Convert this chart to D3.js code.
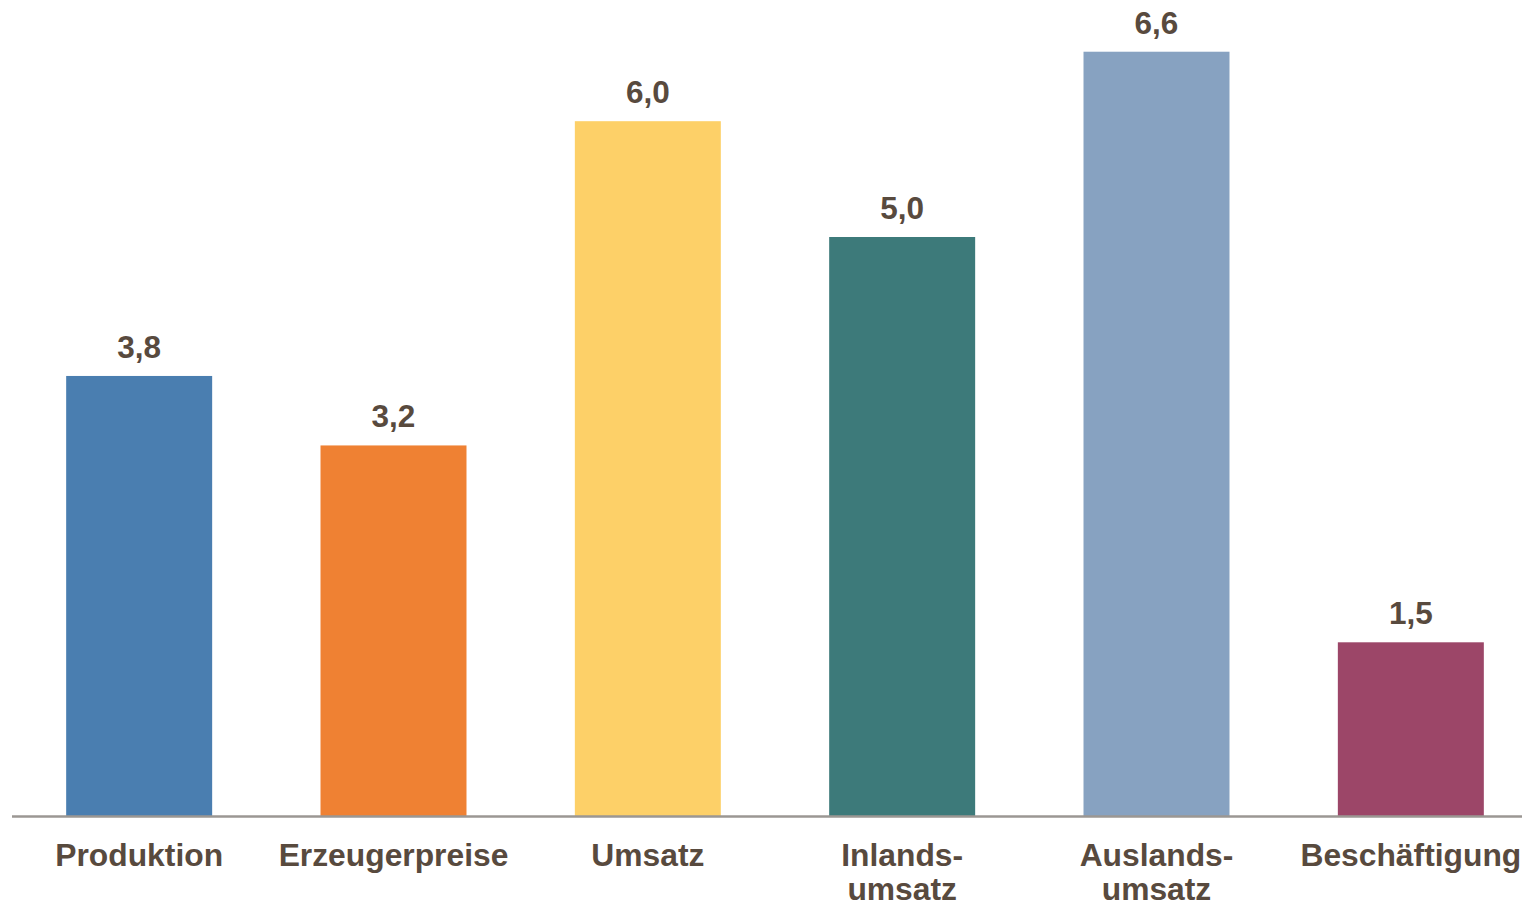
<!DOCTYPE html>
<html>
<head>
<meta charset="utf-8">
<script src="https://cdnjs.cloudflare.com/ajax/libs/d3/7.8.5/d3.min.js"></script>
<style>
  html, body { margin: 0; padding: 0; background: #ffffff; }
  svg { display: block; }
  text { font-family: "Liberation Sans", Arial, sans-serif; font-weight: bold; fill: #584a3e; }
</style>
</head>
<body>
<svg id="chart" width="1522" height="904"></svg>
<script>
// Change against previous year, in percent
const categories = ["Produktion", "Erzeugerpreise", "Umsatz", "Inlands-\numsatz", "Auslands-\numsatz", "Beschäftigung"];
const values = [3.8, 3.2, 6.0, 5.0, 6.6, 1.5];
const valueLabels = ["3,8", "3,2", "6,0", "5,0", "6,6", "1,5"];
const colors = ["#4a7eb0", "#ef8133", "#fdd068", "#3d7a7a", "#87a2c1", "#9c4668"];

const svg = d3.select("#chart");
const baseline = 816;

const x = d3.scaleBand()
  .domain(categories)
  .range([12, 1538])
  .paddingInner(0.426)
  .paddingOuter(0.213);

const y = d3.scaleLinear()
  .domain([0, 7])
  .range([baseline, 5.4]);

const data = categories.map((c, i) => ({ cat: c, value: values[i], label: valueLabels[i], color: colors[i] }));

// bars
svg.append("g").selectAll("rect")
  .data(data)
  .join("rect")
  .attr("x", d => x(d.cat))
  .attr("y", d => y(d.value))
  .attr("width", x.bandwidth())
  .attr("height", d => baseline - y(d.value))
  .attr("fill", d => d.color);

// value labels
svg.append("g").selectAll("text")
  .data(data)
  .join("text")
  .attr("x", d => x(d.cat) + x.bandwidth() / 2)
  .attr("y", d => y(d.value) - 18)
  .attr("text-anchor", "middle")
  .style("font-size", "31.5px")
  .text(d => d.label);

// category axis
const axis = svg.append("g")
  .attr("transform", `translate(0,${baseline})`)
  .call(d3.axisBottom(x).tickSize(0).tickFormat(""));
axis.select(".domain").remove();

axis.append("line")
  .attr("x1", 12).attr("x2", 1522)
  .attr("y1", 0.5).attr("y2", 0.5)
  .attr("stroke", "#9b9793")
  .attr("stroke-width", 2.5);

axis.selectAll(".tick").each(function(d) {
  const lines = d.split("\n");
  const t = d3.select(this).append("text")
    .attr("text-anchor", "middle")
    .attr("y", 50)
    .style("font-size", "31.8px");
  lines.forEach((ln, i) => {
    t.append("tspan").attr("x", 0).attr("dy", i === 0 ? 0 : 34).text(ln);
  });
});
</script>
</body>
</html>
